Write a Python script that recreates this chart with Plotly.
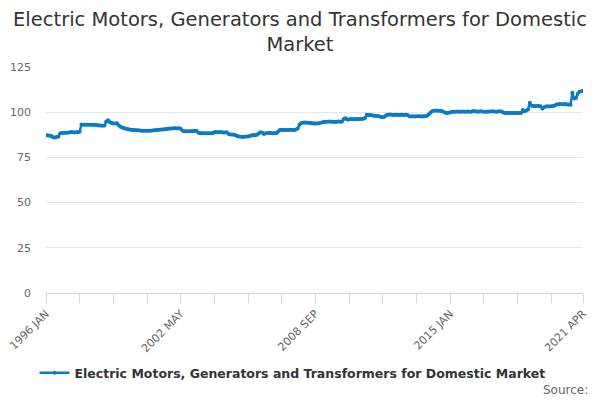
import plotly.graph_objects as go

# Monthly index values, 1996 JAN .. 2021 APR
years = list(range(1996, 2022))
months = ["JAN", "FEB", "MAR", "APR", "MAY", "JUN", "JUL", "AUG", "SEP", "OCT", "NOV", "DEC"]

values = [
    87.2, 87.2, 87.0, 86.8, 86.2, 86.0, 86.3, 86.6, 88.3, 88.5, 88.5, 88.6,  # 1996
    88.7, 88.8, 89.0, 88.9, 88.8, 88.9, 89.0, 89.2, 93.2, 93.0, 93.1, 93.0,  # 1997
    93.0, 93.1, 93.0, 92.9, 93.0, 92.8, 92.7, 92.6, 92.5, 92.6, 94.8, 95.5,  # 1998
    94.5, 94.0, 93.8, 93.8, 93.9, 92.8, 92.0, 91.5, 91.2, 90.9, 90.7, 90.5,  # 1999
    90.3, 90.2, 90.1, 90.0, 90.0, 89.9, 89.8, 89.8, 89.7, 89.7, 89.8, 89.8,  # 2000
    89.9, 90.0, 90.1, 90.2, 90.3, 90.5, 90.5, 90.6, 90.7, 90.9, 91.0, 91.0,  # 2001
    91.1, 91.1, 91.0, 91.1, 90.8, 89.8, 89.5, 89.4, 89.5, 89.5, 89.6, 89.6,  # 2002
    89.7, 89.6, 88.6, 88.4, 88.3, 88.3, 88.4, 88.3, 88.3, 88.4, 88.3, 88.9,  # 2003
    89.0, 88.9, 89.0, 88.9, 88.8, 88.8, 88.9, 88.0, 87.7, 87.6, 87.5, 87.3,  # 2004
    86.7, 86.5, 86.4, 86.3, 86.4, 86.5, 86.6, 86.8, 87.2, 87.4, 87.3, 87.5,  # 2005
    88.2, 88.9, 88.7, 88.0, 88.3, 88.5, 88.6, 88.5, 88.4, 88.5, 88.3, 89.3,  # 2006
    90.1, 90.3, 90.2, 90.2, 90.1, 90.2, 90.3, 90.2, 90.2, 90.4, 91.0, 93.0,  # 2007
    94.0, 94.2, 94.3, 94.2, 94.1, 94.0, 93.9, 93.8, 93.7, 93.8, 93.9, 94.2,  # 2008
    94.5, 94.6, 94.7, 94.7, 94.8, 94.7, 94.7, 94.6, 94.7, 94.8, 94.7, 94.9,  # 2009
    96.3, 96.6, 95.9, 96.0, 96.2, 96.1, 96.2, 96.1, 96.2, 96.3, 96.3, 96.4,  # 2010
    96.8, 98.6, 98.5, 98.4, 98.3, 98.1, 98.0, 97.9, 97.8, 97.4, 97.2, 97.5,  # 2011
    98.3, 98.6, 98.7, 98.6, 98.5, 98.6, 98.6, 98.5, 98.6, 98.6, 98.5, 98.6,  # 2012
    98.5, 97.8, 97.6, 97.7, 97.6, 97.7, 97.8, 97.7, 97.6, 97.7, 97.8, 98.0,  # 2013
    98.8, 99.9, 100.7, 100.8, 100.9, 100.8, 100.8, 100.7, 100.4, 99.8, 99.5, 99.7,  # 2014
    99.9, 100.2, 100.3, 100.3, 100.4, 100.3, 100.3, 100.4, 100.3, 100.3, 100.4, 100.3,  # 2015
    100.3, 100.6, 100.5, 100.4, 100.3, 100.5, 100.4, 100.3, 100.2, 100.3, 100.4, 100.4,  # 2016
    100.5, 100.4, 100.3, 100.4, 100.5, 100.4, 99.8, 99.6, 99.6, 99.5, 99.6, 99.5,  # 2017
    99.6, 99.5, 99.6, 99.5, 99.5, 101.2, 100.5, 101.0, 101.5, 105.2, 103.6, 103.4,  # 2018
    103.4, 103.5, 103.4, 103.3, 102.0, 102.8, 103.2, 103.3, 103.2, 103.3, 103.4, 103.5,  # 2019
    104.3, 104.4, 104.5, 104.4, 104.4, 104.5, 104.3, 104.2, 104.1, 110.8, 107.6, 107.8,  # 2020
    110.2, 111.3, 111.6, 111.8,  # 2021
]

labels = [f"{y} {m}" for y in years for m in months][:len(values)]

# tick marks every 19 months, labels every 76, plus the last month
tick_idx = list(range(0, len(labels) - 1, 19)) + [len(labels) - 1]
label_idx = [0, 76, 152, 228, len(labels) - 1]
tick_vals = [labels[i] for i in tick_idx]
tick_text = [labels[i] if i in label_idx else "" for i in tick_idx]

series_name = "Electric Motors, Generators and Transformers for Domestic Market"

fig = go.Figure()
fig.add_trace(go.Scatter(
    x=labels,
    y=values,
    mode="lines+markers",
    name=series_name,
    line=dict(color="#0a7cc4", width=2.5),
    marker=dict(color="#0a7cc4", size=4),
))

fig.update_layout(
    width=600,
    height=400,
    paper_bgcolor="white",
    plot_bgcolor="white",
    font=dict(family="DejaVu Sans", color="#666666"),
    title=dict(
        text="Electric Motors, Generators and Transformers for Domestic<br>Market",
        x=0.5,
        xanchor="center",
        y=0.935,
        yanchor="top",
        font=dict(size=19.5, color="#333333"),
    ),
    margin=dict(l=46, r=17, t=67, b=107, autoexpand=False),
    showlegend=True,
    legend=dict(
        orientation="h",
        x=0.459,
        xanchor="center",
        y=-0.354,
        yanchor="middle",
        itemwidth=30,
        font=dict(size=12.5, color="#333333", weight="bold"),
    ),
    annotations=[dict(
        text="Source:",
        xref="paper", yref="paper",
        x=1.013, y=-0.43,
        xanchor="right", yanchor="middle",
        showarrow=False,
        font=dict(size=12, color="#666666"),
    )],
)

fig.update_xaxes(
    type="category",
    range=[0, len(labels) - 1],
    automargin=False,
    tickmode="array",
    tickvals=tick_vals,
    ticktext=tick_text,
    tickangle=-45,
    tickfont=dict(size=11, color="#666666"),
    ticks="outside",
    ticklen=9,
    tickcolor="#ccd6eb",
    showline=True,
    linecolor="#ccd6eb",
    linewidth=1,
    showgrid=False,
    zeroline=False,
)

fig.update_yaxes(
    range=[0, 125],
    automargin=False,
    tickvals=[0, 25, 50, 75, 100, 125],
    tickfont=dict(size=11, color="#666666"),
    showgrid=True,
    gridcolor="#e6e6e6",
    zeroline=False,
    showline=False,
    ticks="",
    ticklabelstandoff=14,
)

# drop the default 8px body margin so the figure sits at the window's corner
fig.write_html(
    "out.html",
    config={"displayModeBar": False},
    post_script="document.body.style.margin='0';",
)
